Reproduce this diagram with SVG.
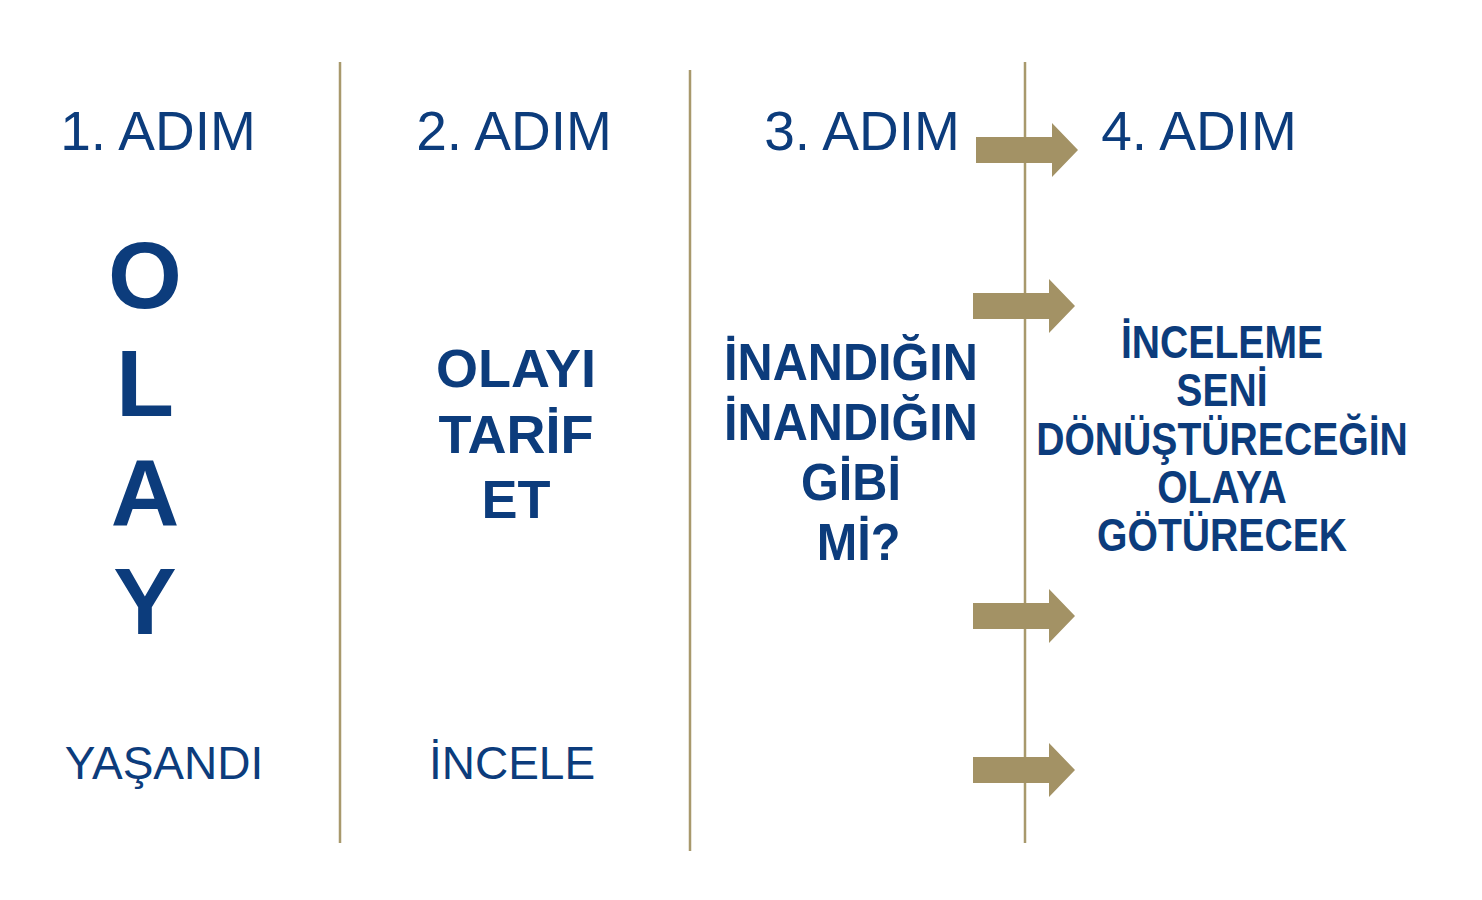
<svg xmlns="http://www.w3.org/2000/svg" width="1482" height="900" viewBox="0 0 1482 900">
<style>
.t{font-family:"Liberation Sans",Arial,sans-serif;fill:#0c3c7c;text-anchor:middle}
.h{font-size:55px}
.s{font-size:46px}
.b{font-weight:bold}
.big{font-size:95px}
.ln{stroke:#a8996c;stroke-width:2.5;fill:none}
.ar{fill:#a39265}
</style>
<defs>
<path id="arrow" d="M0,-13 H76 V-27 L102,0 L76,27 V13 H0 Z"/>
</defs>
<rect width="1482" height="900" fill="#ffffff"/>
<g id="dividers">
<line class="ln" x1="340" y1="62" x2="340" y2="843"/>
<line class="ln" x1="690" y1="70" x2="690" y2="851"/>
<line class="ln" x1="1025" y1="62" x2="1025" y2="843"/>
</g>
<g id="connectors" class="ar">
<use href="#arrow" x="976" y="150"/>
<use href="#arrow" x="973" y="306"/>
<use href="#arrow" x="973" y="616"/>
<use href="#arrow" x="973" y="770"/>
</g>
<g id="step1">
<text class="t h" x="158" y="150">1. ADIM</text>
<text class="t b big" x="145" y="308">O</text>
<text class="t b big" x="145" y="416">L</text>
<text class="t b big" x="145" y="526">A</text>
<text class="t b big" x="145" y="634">Y</text>
<text class="t s" x="164" y="779">YAŞANDI</text>
</g>
<g id="step2">
<text class="t h" x="514" y="150">2. ADIM</text>
<text class="t b" style="font-size:54px" x="516" y="387">OLAYI</text>
<text class="t b" style="font-size:54px" x="516" y="453">TARİF</text>
<text class="t b" style="font-size:54px" x="516" y="518">ET</text>
<text class="t s" x="512" y="779">İNCELE</text>
</g>
<g id="step3">
<text class="t h" x="862" y="150">3. ADIM</text>
<g transform="translate(851,0) scale(0.935,1)">
<text class="t b" style="font-size:52px" x="0" y="380">İNANDIĞIN</text>
<text class="t b" style="font-size:52px" x="0" y="440">İNANDIĞIN</text>
<text class="t b" style="font-size:52px" x="0" y="500">GİBİ</text>
<text class="t b" style="font-size:52px" x="8" y="560">Mİ?</text>
</g>
</g>
<g id="step4">
<text class="t h" x="1199" y="150">4. ADIM</text>
<g transform="translate(1222,0) scale(0.86,1)">
<text class="t b" style="font-size:45.5px" x="0" y="358">İNCELEME</text>
<text class="t b" style="font-size:45.5px" x="0" y="406">SENİ</text>
<text class="t b" style="font-size:45.5px" x="0" y="455">DÖNÜŞTÜRECEĞİN</text>
<text class="t b" style="font-size:45.5px" x="0" y="503">OLAYA</text>
<text class="t b" style="font-size:45.5px" x="0" y="551">GÖTÜRECEK</text>
</g>
</g>
</svg>
